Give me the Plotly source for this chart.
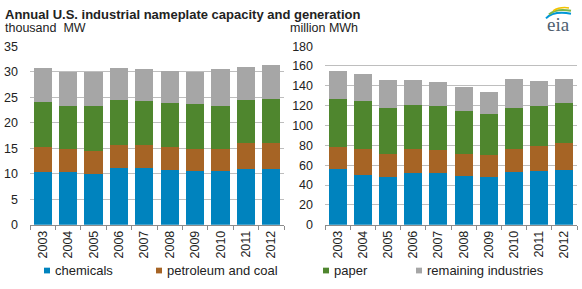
import plotly.graph_objects as go
from plotly.subplots import make_subplots

years = ["2003", "2004", "2005", "2006", "2007", "2008", "2009", "2010", "2011", "2012"]
series_names = ["chemicals", "petroleum and coal", "paper", "remaining industries"]

# capacity, thousand MW
cap_chemicals = [10.4, 10.25, 10.0, 11.1, 11.1, 10.75, 10.6, 10.6, 11.0, 11.0]
cap_petroleum = [4.85, 4.5, 4.5, 4.5, 4.5, 4.5, 4.3, 4.3, 5.0, 5.0]
cap_paper = [8.8, 8.55, 8.8, 8.8, 8.65, 8.65, 8.8, 8.4, 8.4, 8.6]
cap_remaining = [6.75, 6.7, 6.7, 6.4, 6.35, 6.15, 6.2, 7.3, 6.6, 6.8]

# generation, million MWh
gen_chemicals = [56.0, 50.3, 48.4, 52.3, 52.3, 49.0, 48.4, 52.9, 54.2, 54.8]
gen_petroleum = [22.0, 25.7, 23.2, 23.7, 23.2, 22.6, 21.9, 23.1, 25.2, 27.2]
gen_paper = [48.5, 48.5, 46.1, 44.6, 44.2, 43.2, 41.6, 41.7, 40.3, 40.6]
gen_remaining = [28.0, 27.1, 28.1, 25.2, 24.2, 24.2, 22.3, 29.1, 25.1, 24.2]

colors = ["#0083BE", "#A66425", "#4F862E", "#A6A6A6"]

W, H = 582, 289
def px(x):
    return x / W
def py(y):
    return (H - y) / H

FONT = "Liberation Sans, Arial, sans-serif"

fig = make_subplots(rows=1, cols=2)

for vals, name, c in zip([cap_chemicals, cap_petroleum, cap_paper, cap_remaining], series_names, colors):
    fig.add_trace(go.Bar(x=years, y=vals, name=name, marker=dict(color=c, line=dict(width=0)),
                         showlegend=False), row=1, col=1)
for vals, name, c in zip([gen_chemicals, gen_petroleum, gen_paper, gen_remaining], series_names, colors):
    fig.add_trace(go.Bar(x=years, y=vals, name=name, marker=dict(color=c, line=dict(width=0)),
                         showlegend=False), row=1, col=2)

ydom = [py(229), py(41.5)]
xaxis_common = dict(type="category", showline=True, linecolor="#8C8C8C", linewidth=1,
                    ticks="outside", tickson="boundaries", ticklen=4, tickcolor="#8C8C8C",
                    tickangle=-90, tickfont=dict(family=FONT, size=12.5, color="#222"),
                    showgrid=False, fixedrange=True)
yaxis_common = dict(showgrid=True, gridcolor="#BEBEBE", gridwidth=1, zeroline=False,
                    showline=False, ticks="", ticklabelstandoff=11, fixedrange=True,
                    tickfont=dict(family=FONT, size=12.5, color="#222"), domain=ydom)

fig.update_layout(
    width=W, height=H, margin=dict(l=0, r=0, t=0, b=0),
    paper_bgcolor="white", plot_bgcolor="white",
    barmode="stack", bargap=0.29, showlegend=False,
    xaxis=dict(domain=[px(30), px(284)], **xaxis_common),
    xaxis2=dict(domain=[px(325), px(577)], **xaxis_common),
    yaxis=dict(range=[0, 35.1], tickvals=[0, 5, 10, 15, 20, 25, 30, 35], **yaxis_common),
    yaxis2=dict(range=[0, 180.5], tickvals=[0, 20, 40, 60, 80, 100, 120, 140, 160, 180], **yaxis_common),
)

annotations = [
    dict(text="<b>Annual U.S. industrial nameplate capacity and generation</b>", x=px(3), y=py(9),
         xanchor="left", yanchor="middle", font=dict(family=FONT, size=13, color="#222")),
    dict(text="thousand  MW", x=px(3), y=py(23), xanchor="left", yanchor="middle",
         font=dict(family=FONT, size=12.5, color="#222")),
    dict(text="million MWh", x=px(288), y=py(23), xanchor="left", yanchor="middle",
         font=dict(family=FONT, size=12.5, color="#222")),
    dict(text="eia", x=px(558), y=py(19), xanchor="center", yanchor="middle",
         font=dict(family="Liberation Serif, DejaVu Serif, serif", size=19, color="#4F5F6F")),
]
shapes = []
legend_x = [44, 156, 323, 416]
for name, c, lx in zip(series_names, colors, legend_x):
    shapes.append(dict(type="rect", xref="paper", yref="paper", x0=px(lx), x1=px(lx + 6),
                       y0=py(280), y1=py(274), fillcolor=c, line=dict(width=0)))
    annotations.append(dict(text=name, x=px(lx + 9), y=py(277), xanchor="left", yanchor="middle",
                            font=dict(family=FONT, size=13, color="#222")))

# eia logo swooshes
shapes.append(dict(type="path", xref="paper", yref="paper",
                   path=f"M {px(546)},{py(13)} Q {px(553)},{py(5)} {px(571)},{py(8)}",
                   line=dict(color="#0096D7", width=2)))
shapes.append(dict(type="path", xref="paper", yref="paper",
                   path=f"M {px(549)},{py(9)} Q {px(556)},{py(2)} {px(571)},{py(5)}",
                   line=dict(color="#7AB648", width=2)))
shapes.append(dict(type="path", xref="paper", yref="paper",
                   path=f"M {px(553)},{py(5)} Q {px(560)},{py(0.5)} {px(569)},{py(2)}",
                   line=dict(color="#F2C300", width=1.5)))

for a in annotations:
    a.setdefault("xref", "paper")
    a.setdefault("yref", "paper")
    a.setdefault("showarrow", False)
fig.update_layout(annotations=annotations, shapes=shapes)

fig.write_html("out.html", config={"displayModeBar": False})

# remove the default page margin so the figure sits at the window's top-left corner
with open("out.html", "r", encoding="utf-8") as f:
    html = f.read()
html = html.replace("<head>", "<head><style>html,body{margin:0;padding:0;overflow:hidden;}</style>", 1)
with open("out.html", "w", encoding="utf-8") as f:
    f.write(html)
